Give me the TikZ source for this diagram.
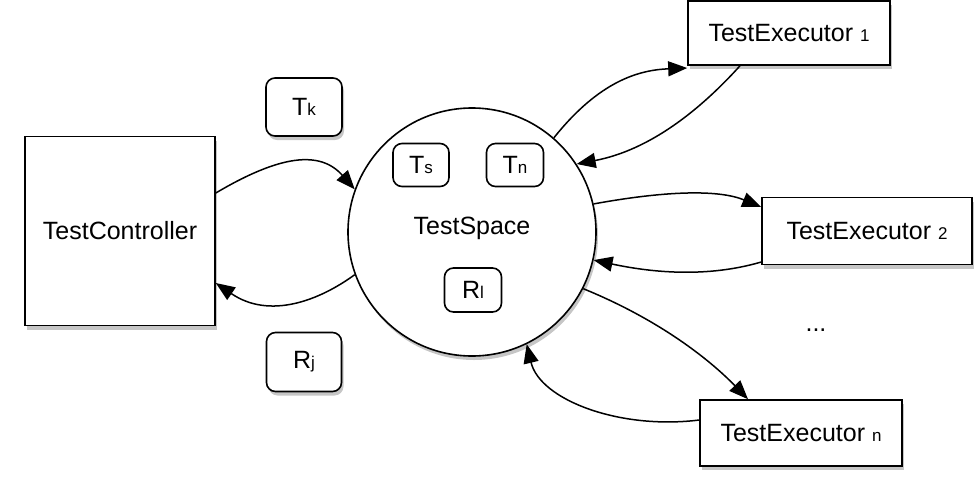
\documentclass[tikz,border=0pt]{standalone}
\usepackage{fontspec}
\setmainfont{Liberation Sans}
\usetikzlibrary{shadows,arrows.meta}
\newcommand{\sm}[1]{{\fontsize{17}{19}\selectfont #1}}
\begin{document}
\begin{tikzpicture}[x=1pt,y=-1pt,
  every node/.style={font=\fontsize{25}{29}\selectfont},
  shad/.style={drop shadow={opacity=0.45,shadow xshift=2pt,shadow yshift=-4pt}},
  bigbox/.style={draw,line width=1.6pt,fill=white,shad,inner sep=0pt},
  tok/.style={draw,line width=1.6pt,fill=white,rounded corners=9pt,inner sep=0pt},
  conn/.style={line width=1.5pt,-{Triangle[length=19pt,width=15pt]}}]
\useasboundingbox (0,0) rectangle (977,488);
\node[bigbox,minimum width=190pt,minimum height=189pt] (tc) at (120,231) {TestController};
\node[draw,circle,line width=1.6pt,fill=white,shad,minimum size=248pt] (ts) at (472,232) {};
\node at (472,228) {TestSpace};
\node[tok,shad,minimum width=76pt,minimum height=58pt] (tk) at (304,107) {T\sm{k}};
\node[tok,shad,minimum width=75pt,minimum height=59pt] (rj) at (304,362) {R\sm{j}};
\node[tok,minimum width=56pt,minimum height=43pt] (tsb) at (421,165) {T\sm{s}};
\node[tok,minimum width=57pt,minimum height=43pt] (tn) at (515,165) {T\sm{n}};
\node[tok,minimum width=57pt,minimum height=44pt] (rl) at (473,290) {R\sm{l}};
\node[bigbox,minimum width=202pt,minimum height=64pt] (te1) at (789,33) {TestExecutor \sm{1}};
\node[bigbox,minimum width=210pt,minimum height=67pt] (te2) at (867,231) {TestExecutor \sm{2}};
\node[bigbox,minimum width=202pt,minimum height=66pt] (ten) at (801,433) {TestExecutor \sm{n}};
\node (dots) at (816,330) {...};
% connectors
\draw[conn] (tc.east |- 0,193) .. controls (280,155) and (320,150) .. (ts.160);
\draw[conn] (ts.200) .. controls (320,300) and (270,320) .. (tc.east |- 0,283);
\draw[conn] (ts.49) .. controls (600,80) and (640,70) .. (te1.west |- 0,68);
\draw[conn] (te1.south -| 740,0) .. controls (700,110) and (650,150) .. (ts.33);
\draw[conn] (ts.13) .. controls (670,190) and (720,190) .. (te2.west |- 0,207);
\draw[conn] (te2.west |- 0,262) .. controls (700,280) and (640,270) .. (ts.-13);
\draw[conn] (ts.-27) .. controls (660,320) and (710,360) .. (ten.north -| 748,0);
\draw[conn] (ten.west |- 0,420) .. controls (620,430) and (540,400) .. (ts.-64);
\end{tikzpicture}
\end{document}
